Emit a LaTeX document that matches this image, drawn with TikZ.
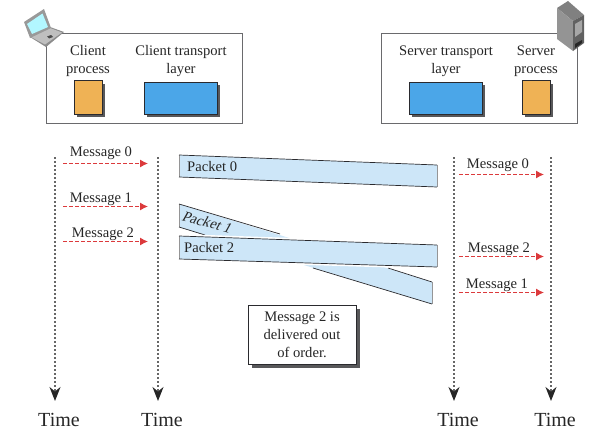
\documentclass[tikz,border=0pt]{standalone}
\usepackage{fontspec}
\setmainfont{Liberation Serif}
\usetikzlibrary{arrows.meta}
\definecolor{orangeb}{HTML}{EFB255}
\definecolor{blueb}{HTML}{4BA6E8}
\definecolor{pkt}{HTML}{CDE6F8}
\definecolor{shad}{HTML}{58585A}
\definecolor{msg}{HTML}{DC3A3C}
\definecolor{edgec}{HTML}{2A2A2E}
\tikzset{
  x=1pt,y=-1pt,
  panel/.style={draw=edgec!70,line width=0.9pt,fill=white},
  block/.style={draw=edgec,line width=0.7pt},
  shadowblk/.style={fill=shad,draw=none},
  lbl/.style={font=\fontsize{14.6}{17}\selectfont,text=black!85,inner sep=0pt,align=center},
  timelbl/.style={font=\fontsize{20}{22}\selectfont,text=black!85,inner sep=0pt},
  msgarrow/.style={draw=msg,line width=1.1pt,dash pattern=on 3.6pt off 2.4pt,-{Latex[length=8pt,width=8pt]}},
  timeline/.style={draw=black!60,line width=1.2pt,dash pattern=on 2.4pt off 1.6pt,-{Stealth[length=14pt,width=11pt,inset=4.5pt,black!85]}},
  pktedge/.style={draw=edgec,line width=0.7pt},
  pktside/.style={draw=edgec!50,line width=0.4pt},
}
\begin{document}
\begin{tikzpicture}
\useasboundingbox (0,0) rectangle (598,439);
% client box
\node[panel,minimum width=196pt,minimum height=90pt,inner sep=0pt] (cbox) at (144,78) {};
\node[lbl] (cl1) at (88,61) {Client\\[1pt]process};
\node[lbl] (cl2) at (181,61) {Client transport\\[1pt]layer};
\fill[shadowblk] (77,84) rectangle (105,117);
\node[block,fill=orangeb,minimum width=28pt,minimum height=34pt,inner sep=0pt] (cp) at (88,97) {};
\fill[shadowblk] (147,85) rectangle (220,117);
\node[block,fill=blueb,minimum width=73pt,minimum height=32pt,inner sep=0pt] (ct) at (180.5,98) {};
% server box
\node[panel,minimum width=196pt,minimum height=90pt,inner sep=0pt] (sbox) at (479,78) {};
\node[lbl] (sl1) at (446,61) {Server transport\\[1pt]layer};
\node[lbl] (sl2) at (536,61) {Server\\[1pt]process};
\fill[shadowblk] (412,85) rectangle (485,117);
\node[block,fill=blueb,minimum width=73pt,minimum height=32pt,inner sep=0pt] (st) at (445.5,98) {};
\fill[shadowblk] (525,84) rectangle (553,117);
\node[block,fill=orangeb,minimum width=28pt,minimum height=34pt,inner sep=0pt] (sp) at (536,97) {};
% laptop
\fill[black!45] (30,37) -- (50,27) -- (64,32) -- (46,47) -- cycle;
\fill[black!25] (31,37) -- (50,28) -- (62,32.5) -- (45,44.5) -- cycle;
\fill[black!40] (24,22) -- (44,9) -- (51,28) -- (30,38) -- cycle;
\fill[blue!10!cyan!30!white] (27,24) -- (42.5,13.5) -- (48,27) -- (32,34) -- cycle;
\fill[black!70] (47,36.5) -- (51,35) -- (53,37) -- (49,38.5) -- cycle;
% server
\fill[black!50] (557,8) -- (568,1) -- (584,15) -- (573,21) -- cycle;
\fill[black!42] (557,8) -- (573,21) -- (573,51) -- (557,39) -- cycle;
\fill[black!62] (573,21) -- (584,15) -- (584,43) -- (573,51) -- cycle;
\fill[black!35] (575,24) -- (582,20) -- (582,32) -- (575,37) -- cycle;
\fill[black!85] (575,44) -- (582,40) -- (582,43) -- (575,48) -- cycle;
% time lines
\coordinate (t1a) at (55,157); \coordinate (t1b) at (55,401);
\coordinate (t2a) at (158,157); \coordinate (t2b) at (158,401);
\coordinate (t3a) at (454,157); \coordinate (t3b) at (454,401);
\coordinate (t4a) at (551,157); \coordinate (t4b) at (551,401);
\draw[timeline] (t1a) -- (t1b);
\draw[timeline] (t2a) -- (t2b);
\draw[timeline] (t3a) -- (t3b);
\draw[timeline] (t4a) -- (t4b);
\node[timelbl] (time1) at (59,420) {Time};
\node[timelbl] (time2) at (162,420) {Time};
\node[timelbl] (time3) at (458,420) {Time};
\node[timelbl] (time4) at (555,420) {Time};
% messages left
\foreach \n/\y/\lx/\ly/\t in {a/163.5/101/153.5/0,b/206.5/101/199/1,c/241.5/103/234/2}{
  \coordinate (m\n1) at (63,\y); \coordinate (m\n2) at (148,\y);
  \draw[msgarrow] (m\n1) -- (m\n2);
  \node[lbl] (ml\n) at (\lx,\ly) {Message \t};
}
% messages right
\foreach \n/\y/\lx/\ly/\t in {d/174.5/498/165/0,e/256.5/499/249/2,f/292.5/497/285/1}{
  \coordinate (m\n1) at (459,\y); \coordinate (m\n2) at (544,\y);
  \draw[msgarrow] (m\n1) -- (m\n2);
  \node[lbl] (ml\n) at (\lx,\ly) {Message \t};
}
% packet 0
\fill[pkt] (179,155) -- (437,165) -- (437,187) -- (179,177) -- cycle;
\draw[pktside] (179,155) -- (179,177) (437,165) -- (437,187);
\draw[pktedge] (179,155) -- (437,165) (179,177) -- (437,187);
\node[lbl,anchor=west] (p0) at (187,167) {Packet 0};
% packet 1
\fill[pkt] (179,204) -- (432,282) -- (432,304) -- (179,227) -- cycle;
\draw[pktside] (179,204) -- (179,227) (432,282) -- (432,304);
\draw[pktedge] (179,204) -- (280,234) (388,268) -- (432,282)
  (179,227) -- (205,235) (313,268) -- (432,304);
\node[lbl,rotate=-15] (p1) at (206.5,222) {\addfontfeature{FakeSlant=0.25}Packet 1};
% packet 2
\fill[white] (179,234) -- (437,243) -- (437,269) -- (179,261) -- cycle;
\fill[pkt] (179,236) -- (437,245) -- (437,267) -- (179,259) -- cycle;
\draw[pktside] (179,236) -- (179,259) (437,245) -- (437,267);
\draw[pktedge] (179,236) -- (437,245) (179,259) -- (437,267);
\node[lbl,anchor=west] (p2) at (184,248) {Packet 2};
% note
\fill[shadowblk] (252,309) rectangle (360,368);
\node[draw=edgec,line width=0.7pt,fill=white,minimum width=108pt,minimum height=59pt,inner sep=0pt] (note) at (302,334.5) {};
\node[font=\fontsize{14.6}{18}\selectfont,text=black!85,align=center,inner sep=0pt] (notetext) at (note.center) {Message 2 is\\delivered out\\of order.};
\end{tikzpicture}
\end{document}
